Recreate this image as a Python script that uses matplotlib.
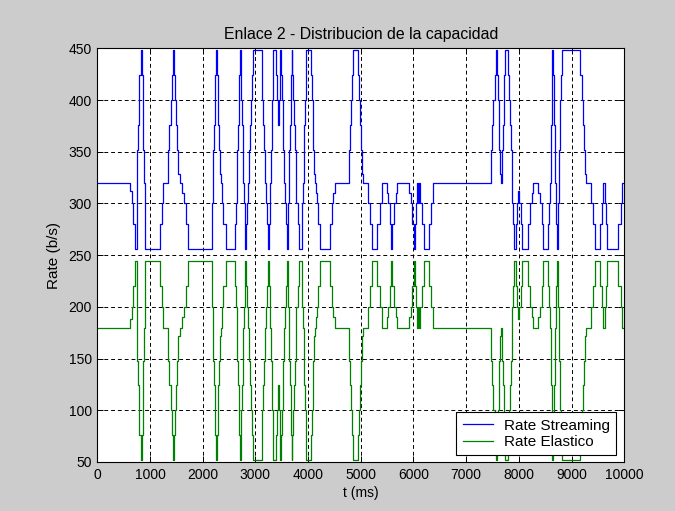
import numpy as np
import matplotlib
matplotlib.use("Agg")
import matplotlib.pyplot as plt

plt.rcParams['font.family'] = ['Liberation Sans', 'DejaVu Sans']

# link capacity shared between the two flows
capacity = 500

# streaming rate as a step signal: value holds from t until the next t
t_ms = [
    0, 620, 652, 684, 710, 747, 762, 778, 797, 823, 842, 861, 874, 886, 905,
    1190, 1222, 1253, 1336, 1365, 1390, 1415, 1442, 1460, 1475, 1490, 1506, 1540, 1570, 1613, 1651, 1677, 1716,
    2171, 2185, 2195, 2205, 2215, 2225, 2238, 2253, 2266, 2282, 2298, 2314, 2330, 2346, 2361, 2393, 2443,
    2614, 2630, 2645, 2658, 2670, 2683, 2696, 2708, 2722, 2735, 2748, 2760, 2772, 2785, 2795, 2803,
    2825, 2845, 2865, 2885, 2905, 2925, 2945, 2961, 3120, 3135, 3150, 3165, 3180, 3200, 3220, 3246,
    3260, 3272, 3284, 3296, 3308, 3318, 3326, 3335, 3392, 3410, 3425, 3440, 3460, 3475,
    3487, 3500, 3515, 3530, 3545, 3560, 3577, 3595, 3610, 3622, 3634, 3646, 3658, 3668, 3678, 3690,
    3700, 3716, 3732, 3748, 3764, 3780, 3800, 3828, 3880, 3893, 3906, 3918, 3930, 3942, 3954, 3966,
    4055, 4069, 4085, 4100, 4116, 4132, 4148, 4164, 4195, 4227,
    4417, 4448, 4480, 4512, 4783, 4800, 4815, 4835, 4859,
    4950, 4965, 4980, 4995, 5015, 5037, 5132, 5170, 5208,
    5314, 5356, 5398, 5493, 5520, 5550, 5575, 5600, 5630, 5660, 5683,
    5922, 5950, 5980, 6011, 6035, 6055, 6075, 6095, 6110, 6130, 6160, 6201,
    6302, 6340, 6377, 7467, 7490, 7510, 7540, 7567,
    7580, 7600, 7615, 7630, 7645, 7662, 7680, 7695, 7710, 7725, 7738,
    7800, 7815, 7830, 7845, 7860, 7875, 7895, 7914, 7940, 7960, 7976, 8010, 8035, 8060,
    8180, 8210, 8240, 8275, 8370, 8400, 8430, 8465,
    8560, 8575, 8590, 8600, 8610, 8620, 8628, 8636, 8650, 8660, 8670, 8680, 8690, 8700, 8710, 8720,
    8735, 8745, 8755, 8765, 8775, 8788, 8800, 8814, 9162, 9193, 9215, 9240, 9260, 9276, 9364, 9400, 9446,
    9541, 9570, 9600, 9630, 9650, 9668, 9889, 9930, 9960, 10000,
]
rate_streaming = [
    320, 312, 300, 280, 256, 320, 352, 376, 424, 448, 424, 376, 352, 320, 256,
    280, 300, 320, 352, 376, 400, 424, 448, 424, 400, 376, 352, 328, 320, 310, 300, 280, 256,
    280, 300, 320, 352, 376, 400, 424, 448, 424, 400, 376, 352, 328, 320, 300, 280, 256,
    280, 300, 320, 352, 376, 400, 424, 448, 424, 400, 376, 352, 320, 300, 280, 256,
    280, 300, 320, 352, 376, 400, 424, 448, 424, 400, 376, 352, 320, 300, 280, 256,
    280, 300, 320, 352, 376, 400, 424, 448, 424, 400, 376, 400, 424, 448,
    424, 400, 376, 352, 320, 300, 280, 256, 280, 300, 320, 352, 376, 400, 424, 448,
    424, 400, 376, 352, 320, 300, 280, 256, 280, 300, 320, 352, 376, 400, 424, 448,
    424, 400, 376, 352, 328, 320, 310, 300, 280, 256,
    280, 300, 310, 320, 352, 376, 400, 424, 448,
    424, 400, 376, 352, 328, 320, 300, 280, 256,
    280, 300, 320, 310, 300, 280, 256, 280, 300, 310, 320,
    310, 300, 280, 256, 280, 300, 320, 300, 320, 300, 280, 256,
    280, 300, 320, 352, 376, 400, 424, 448,
    424, 400, 376, 352, 328, 320, 352, 376, 400, 424, 448,
    424, 400, 376, 352, 320, 300, 280, 256, 280, 300, 312, 300, 280, 256,
    280, 300, 310, 320, 310, 300, 280, 256,
    280, 300, 320, 352, 376, 400, 424, 448, 424, 400, 376, 352, 320, 300, 280, 256,
    280, 300, 320, 352, 376, 400, 424, 448, 424, 400, 376, 352, 328, 320, 300, 280, 256,
    280, 300, 320, 300, 280, 256, 280, 300, 320, 320,
]
assert len(t_ms) == len(rate_streaming)

t = np.array(t_ms)
streaming = np.array(rate_streaming)
elastico = capacity - streaming

fig = plt.figure(figsize=(6.75, 5.11), dpi=100, facecolor='#cccccc')
ax = fig.add_axes([0.1441, 0.0959, 0.7808, 0.8096])
ax.set_facecolor('white')

ax.plot(t, streaming, drawstyle='steps-post', color='#0000ff', lw=0.9, label='Rate Streaming')
ax.plot(t, elastico, drawstyle='steps-post', color='#008000', lw=0.9, label='Rate Elastico')

ax.set_xlim(0, 10000)
ax.set_ylim(50, 450)
ax.set_xticks(np.arange(0, 10001, 1000))
ax.set_yticks(np.arange(50, 451, 50))

ax.grid(True, color='black', linestyle=(0, (4, 3)), linewidth=0.7)
ax.tick_params(direction='in', top=True, right=True, length=4, width=0.7,
               labelsize=10, colors='black', pad=4)
for s in ax.spines.values():
    s.set_linewidth(0.8)

ax.set_title('Enlace 2 - Distribucion de la capacidad', fontsize=11.4, pad=7)
ax.set_xlabel('t (ms)', fontsize=10, labelpad=3)
ax.set_ylabel('Rate (b/s)', fontsize=11, labelpad=5)

leg = ax.legend(loc='lower right', bbox_to_anchor=(0.984, 0.017), fontsize=11,
                fancybox=False, framealpha=1, edgecolor='black',
                handlelength=2.0, handletextpad=0.7, borderpad=0.4,
                labelspacing=0.15, borderaxespad=0)
leg.get_frame().set_linewidth(0.8)

fig.savefig('out.png', dpi=100, facecolor=fig.get_facecolor())
